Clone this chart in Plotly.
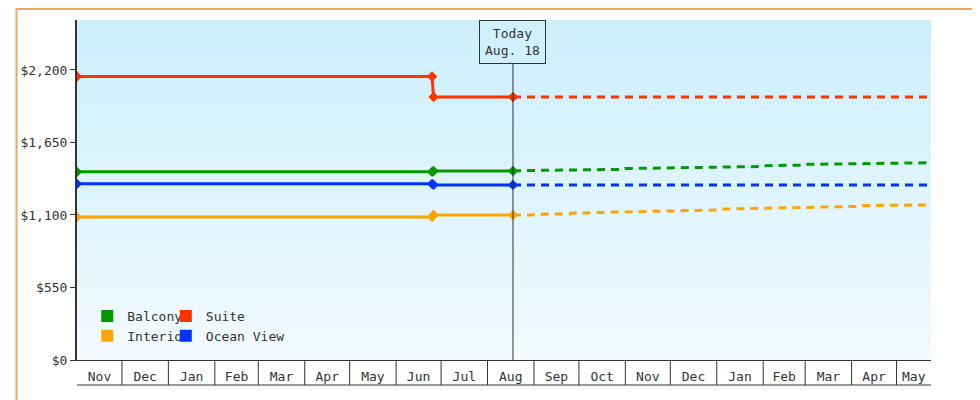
import plotly.graph_objects as go
import pandas as pd

# historic prices (solid)
hist_dates = ["2023-11-01", "2024-06-25", "2024-06-26", "2024-08-18"]
balcony_hist = [1427, 1427, 1434, 1434]
suite_hist = [2150, 2150, 1995, 1995]
interior_hist = [1085, 1085, 1100, 1100]
ocean_hist = [1336, 1336, 1328, 1328]

# forecast (dashed)
bal_fc_dates = ["2024-08-18", "2024-09-01", "2024-10-31", "2024-11-01", "2025-01-31",
                "2025-02-01", "2025-02-28", "2025-03-01", "2025-05-24"]
balcony_fc = [1434, 1438, 1446, 1452, 1468, 1474, 1478, 1484, 1496]
int_fc_dates = ["2024-08-18", "2024-08-31", "2024-09-01", "2024-09-25", "2024-09-26",
                "2025-01-01", "2025-01-02", "2025-04-08", "2025-04-09", "2025-05-24"]
interior_fc = [1100, 1100, 1106, 1108, 1114, 1138, 1144, 1166, 1172, 1176]
flat_fc_dates = ["2024-08-18", "2025-05-24"]
suite_fc = [1995, 1995]
ocean_fc = [1328, 1328]

months = pd.date_range("2023-11-01", "2025-05-01", freq="MS")
x_end = pd.Timestamp("2025-05-24")
today = "2024-08-18"

colors = {"Balcony": "#009900", "Suite": "#ff3300", "Interior": "#ffa500", "Ocean View": "#0033ff"}
font = "DejaVu Sans Mono"

fig = go.Figure()
series = [
    ("Suite", hist_dates, suite_hist, flat_fc_dates, suite_fc),
    ("Balcony", hist_dates, balcony_hist, bal_fc_dates, balcony_fc),
    ("Ocean View", hist_dates, ocean_hist, flat_fc_dates, ocean_fc),
    ("Interior", hist_dates, interior_hist, int_fc_dates, interior_fc),
]
for name, hd, hv, fd, fv in series:
    c = colors[name]
    fig.add_trace(go.Scatter(x=fd, y=fv, mode="lines", showlegend=False,
                             line=dict(color=c, width=3, dash="8px,6px")))
    fig.add_trace(go.Scatter(x=hd, y=hv, mode="lines+markers", showlegend=False,
                             line=dict(color=c, width=3),
                             marker=dict(color=c, size=8, symbol="diamond")))

# legend entries as squares
for name, lg in [("Balcony", "legend"), ("Interior", "legend"), ("Suite", "legend2"), ("Ocean View", "legend2")]:
    fig.add_trace(go.Scatter(x=[None], y=[None], mode="markers", name=name, legend=lg,
                             marker=dict(color=colors[name], size=12, symbol="square")))

# gradient background
n = 30
top = (204, 239, 252)
bot = (242, 251, 255)
for i in range(n):
    t = i / (n - 1)
    col = tuple(int(top[k] + (bot[k] - top[k]) * t) for k in range(3))
    fig.add_shape(type="rect", xref="paper", yref="paper", x0=0, x1=1,
                  y0=1 - (i + 1) / n, y1=1 - i / n, fillcolor="rgb(%d,%d,%d)" % col,
                  line_width=0, layer="below")

# month boxes under the axis
box_y = -25 / 340
for m in list(months[1:]):
    fig.add_shape(type="line", xref="x", yref="paper", x0=m, x1=m, y0=0, y1=box_y,
                  line=dict(color="#333", width=1))
fig.add_shape(type="line", xref="paper", yref="paper", x0=0, x1=1, y0=box_y, y1=box_y,
              line=dict(color="#333", width=1))

# today line + box
fig.add_shape(type="line", xref="x", yref="paper", x0=today, x1=today, y0=0, y1=1 - 40 / 340,
              line=dict(color="#333", width=1))
fig.add_annotation(x=today, y=1.0, xref="x", yref="paper", yanchor="top",
                   text="Today<br>Aug. 18", showarrow=False, bordercolor="#333",
                   borderwidth=1, borderpad=5, bgcolor="#d0f0fc",
                   font=dict(family=font, size=13, color="#333"))

# outer frame
fig.add_shape(type="rect", xref="paper", yref="paper", x0=-61 / 861, x1=1 + 56 / 861,
              y0=-47 / 340, y1=1 + 11 / 340, line=dict(color="#f0a860", width=2))

tick_vals, tick_text = [], []
for m in months:
    nxt = min(m + pd.offsets.MonthBegin(1), x_end)
    tick_vals.append(m + (nxt - m) / 2)
    tick_text.append(m.strftime("%b"))

fig.update_layout(
    width=980, height=400, margin=dict(l=62, r=57, t=12, b=48),
    paper_bgcolor="white", plot_bgcolor="rgba(0,0,0,0)",
    font=dict(family=font, size=13, color="#333"),
    xaxis=dict(range=[months[0], x_end], tickvals=tick_vals, ticktext=tick_text,
               showgrid=False, zeroline=False, showline=True, linecolor="#333",
               linewidth=1, ticks="", ticklabelstandoff=4),
    yaxis=dict(range=[0, 2579], tickvals=[0, 550, 1100, 1650, 2200],
               ticktext=["$0", "$550", "$1,100", "$1,650", "$2,200"],
               showgrid=False, zeroline=False, showline=True, linecolor="#333",
               linewidth=2, ticks="outside", ticklen=5, tickcolor="#333"),
    legend=dict(x=0.012, y=0.1, xanchor="left", yanchor="middle", bgcolor="rgba(0,0,0,0)",
                tracegroupgap=0, itemwidth=30, font=dict(size=13)),
    legend2=dict(x=0.104, y=0.1, xanchor="left", yanchor="middle", bgcolor="rgba(0,0,0,0)",
                 tracegroupgap=0, itemwidth=30, font=dict(size=13)),
)

fig.write_html("out.html")
